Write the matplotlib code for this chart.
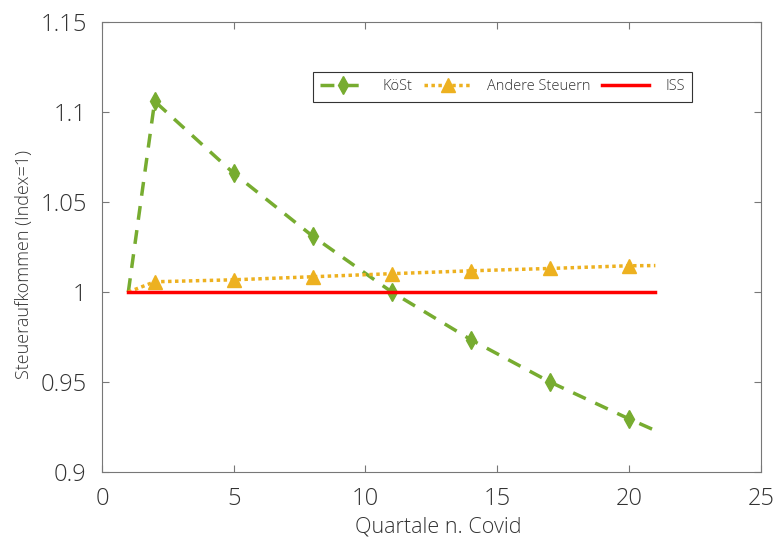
import matplotlib.pyplot as plt

plt.rcParams['font.family'] = ['Open Sans', 'DejaVu Sans']
plt.rcParams['font.weight'] = 'light'

quarters = [1, 2, 5, 8, 11, 14, 17, 20, 21]
koest = [1.0, 1.106, 1.066, 1.031, 1.0, 0.9735, 0.950, 0.9295, 0.923]
andere = [1.0, 1.0057, 1.0068, 1.0085, 1.0102, 1.0118, 1.0131, 1.0146, 1.0147]
iss_x = [1, 21]
iss = [1.0, 1.0]

green = '#77AC30'
orange = '#EDB120'
red = '#FF0000'
txt = '#333333'

fig = plt.figure(figsize=(7.76, 5.4), dpi=100)
ax = fig.add_axes([0.1314, 0.126, 0.849, 0.833])

ax.plot(quarters, koest, color=green, lw=2.5, ls=(0, (4, 3)),
        marker='d', markersize=9, markevery=range(1, 8), label='KöSt')
ax.plot(quarters, andere, color=orange, lw=2.5, ls=(0, (1, 1)),
        marker='^', markersize=10, markevery=range(1, 8), label='Andere Steuern')
ax.plot(iss_x, iss, color=red, lw=2.5, label='ISS')

ax.set_xlim(0, 25)
ax.set_ylim(0.9, 1.15)
ax.set_xticks([0, 5, 10, 15, 20, 25])
ax.set_yticks([0.9, 0.95, 1.0, 1.05, 1.1, 1.15])
ax.set_yticklabels(['0.9', '0.95', '1', '1.05', '1.1', '1.15'])
ax.tick_params(direction='in', labelsize=17, colors='#777777', labelcolor=txt,
               length=5, pad=11, top=True, right=True)
for s in ax.spines.values():
    s.set_color('#777777')

ax.set_xlabel('Quartale n. Covid', fontsize=15.5, fontweight='light', color=txt)
ax.set_ylabel('Steueraufkommen (Index=1)', fontsize=13, fontweight='light', color=txt)
ax.xaxis.set_label_coords(0.511, -0.098)
ax.yaxis.set_label_coords(-0.104, 0.462)

leg = ax.legend(loc='upper left', bbox_to_anchor=(0.320, 0.889), ncol=3, fontsize=10.5,
                handlelength=3.2, columnspacing=0.8, handletextpad=1.1,
                fancybox=False, edgecolor='#333333', framealpha=1, borderpad=0.5,
                borderaxespad=0)
for t in leg.get_texts():
    t.set_color(txt)
leg.get_frame().set_linewidth(0.8)

fig.savefig('out.png', dpi=100)
